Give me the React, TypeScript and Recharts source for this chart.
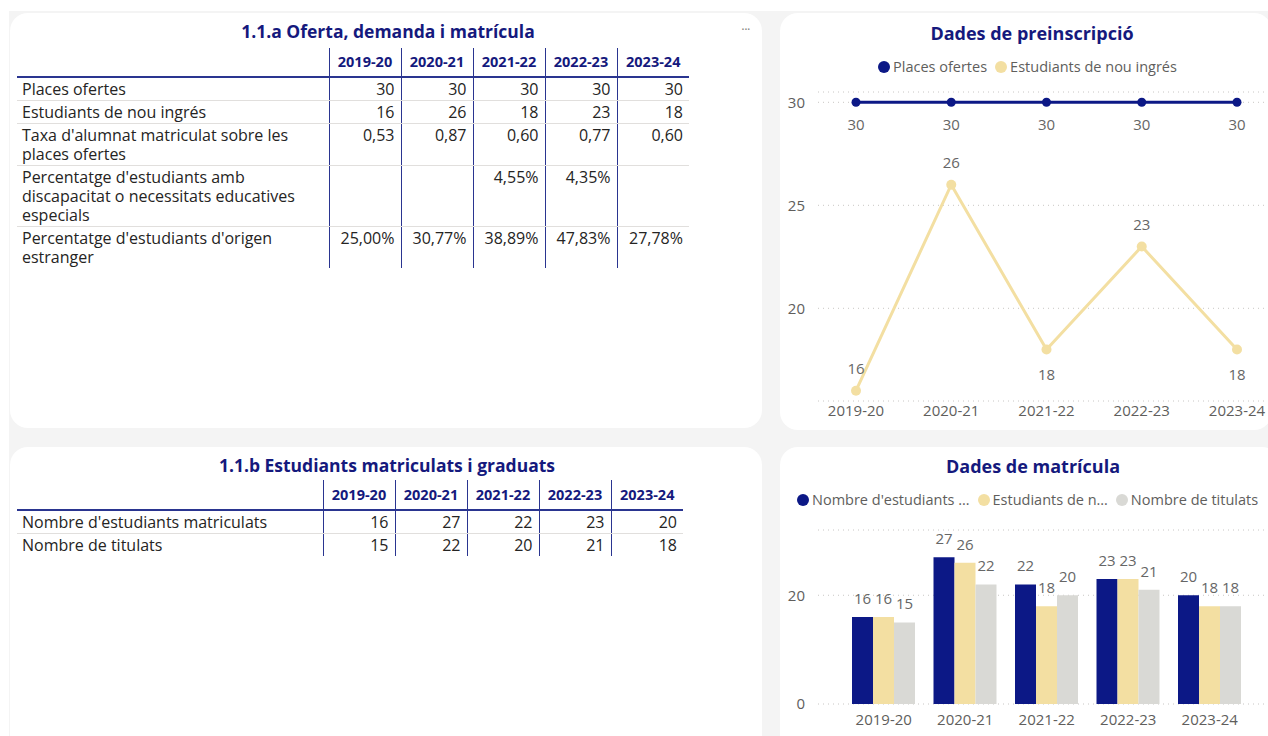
import React from 'react';
import { LineChart, Line, BarChart, Bar, XAxis, YAxis, CartesianGrid, LabelList, Legend } from 'recharts';

// ---------- data ----------
const years = ['2019-20', '2020-21', '2021-22', '2022-23', '2023-24'];
const placesOfertes = [30, 30, 30, 30, 30];
const nouIngres = [16, 26, 18, 23, 18];
const taxaMatricula = [0.53, 0.87, 0.6, 0.77, 0.6];
const pctDiscapacitat: (number | null)[] = [null, null, 4.55, 4.35, null];
const pctEstranger = [25.0, 30.77, 38.89, 47.83, 27.78];
const matriculats = [16, 27, 22, 23, 20];
const titulats = [15, 22, 20, 21, 18];

const table1Labels = [
  'Places ofertes',
  'Estudiants de nou ingrés',
  "Taxa d'alumnat matriculat sobre les places ofertes",
  "Percentatge d'estudiants amb discapacitat o necessitats educatives especials",
  "Percentatge d'estudiants d'origen estranger",
];
const table2Labels = ["Nombre d'estudiants matriculats", 'Nombre de titulats'];

const lineLegendLabels = ['Places ofertes', 'Estudiants de nou ingrés'];
const barLegendLabels = ["Nombre d'estudiants …", 'Estudiants de n…', 'Nombre de titulats'];

const lineTicks = [20, 25, 30];
const barTicks = [0, 20];

// ---------- style ----------
const FONT = '"Segoe UI", "Open Sans", sans-serif';
const NAVY = '#0c1886';
const YELLOW = '#F3DFA2';
const GRAY = '#D9D9D5';
const TITLE = '#15197d';
const TEXT = '#252423';
const AXIS = '#605E5C';
const LABEL = '#666666';
const GRID = '#c8c6c4';
const VLINE = '#2a3590';

const fmtInt = (v: number | null) => (v == null ? '' : String(v));
const fmtDec = (v: number | null) => (v == null ? '' : v.toFixed(2).replace('.', ','));
const fmtPct = (v: number | null) => (v == null ? '' : v.toFixed(2).replace('.', ',') + '%');

const table1Rows = [
  { label: table1Labels[0], values: placesOfertes.map(fmtInt) },
  { label: table1Labels[1], values: nouIngres.map(fmtInt) },
  { label: table1Labels[2], values: taxaMatricula.map(fmtDec) },
  { label: table1Labels[3], values: pctDiscapacitat.map(fmtPct) },
  { label: table1Labels[4], values: pctEstranger.map(fmtPct) },
];
const table2Rows = [
  { label: table2Labels[0], values: matriculats.map(fmtInt) },
  { label: table2Labels[1], values: titulats.map(fmtInt) },
];

const lineData = years.map((y, i) => ({ year: y, places: placesOfertes[i], nou: nouIngres[i] }));
const barData = years.map((y, i) => ({ year: y, matriculats: matriculats[i], nou: nouIngres[i], titulats: titulats[i] }));

// label placement for the yellow line (style, not data)
const nouLabelBelow = [false, false, true, false, true];

function DataTable(props: { left: number; top: number; labelWidth: number; colWidth: number; headerHeight: number; rows: { label: string; values: string[] }[] }) {
  const { left, top, labelWidth, colWidth, rows, headerHeight } = props;
  const cellBase: React.CSSProperties = {
    padding: '2px 6px 1px 6px',
    lineHeight: '19px',
    verticalAlign: 'top',
    fontSize: 16,
    color: TEXT,
  };
  return (
    <table
      style={{
        position: 'absolute',
        left,
        top,
        borderCollapse: 'collapse',
        tableLayout: 'fixed',
        width: labelWidth + colWidth * years.length,
        fontFamily: FONT,
      }}
    >
      <colgroup>
        <col style={{ width: labelWidth }} />
        {years.map((y) => (
          <col key={y} style={{ width: colWidth }} />
        ))}
      </colgroup>
      <thead>
        <tr style={{ height: headerHeight }}>
          <th style={{ borderBottom: `2px solid ${VLINE}`, padding: 0 }} />
          {years.map((y) => (
            <th
              key={y}
              style={{
                borderLeft: `1px solid ${VLINE}`,
                borderBottom: `2px solid ${VLINE}`,
                padding: '0 4px 0 4px',
                fontSize: 14.5,
                fontWeight: 700,
                color: TITLE,
                textAlign: 'center',
                verticalAlign: 'middle',
                lineHeight: '18px',
              }}
            >
              {y}
            </th>
          ))}
        </tr>
      </thead>
      <tbody>
        {rows.map((r, ri) => (
          <tr key={ri}>
            <td
              style={{
                ...cellBase,
                paddingLeft: 5,
                textAlign: 'left',
                borderBottom: ri < rows.length - 1 ? '1px solid #e1dfdd' : 'none',
              }}
            >
              {r.label}
            </td>
            {r.values.map((v, ci) => (
              <td
                key={ci}
                style={{
                  ...cellBase,
                  textAlign: 'right',
                  borderLeft: `1px solid ${VLINE}`,
                  borderBottom: ri < rows.length - 1 ? '1px solid #e1dfdd' : 'none',
                }}
              >
                {v}
              </td>
            ))}
          </tr>
        ))}
      </tbody>
    </table>
  );
}

function LegendRow(props: { items: { label: string; color: string }[] }) {
  return (
    <div
      style={{
        display: 'flex',
        alignItems: 'center',
        fontFamily: FONT,
        fontSize: 14.5,
        color: AXIS,
        whiteSpace: 'nowrap',
        lineHeight: '20px',
      }}
    >
      {props.items.map((it, i) => (
        <span key={i} style={{ display: 'inline-flex', alignItems: 'center', marginRight: 8 }}>
          <span
            style={{
              display: 'inline-block',
              width: 12,
              height: 12,
              borderRadius: 6,
              background: it.color,
              marginRight: 3,
            }}
          />
          {it.label}
        </span>
      ))}
    </div>
  );
}

function makePointLabel(offsetFor: (i: number) => number) {
  return (props: any) => {
    const vb = props.viewBox || {};
    const x = typeof props.x === 'number' ? props.x : vb.x;
    const y = typeof props.y === 'number' ? props.y : vb.y;
    const idx = typeof props.index === 'number' ? props.index : 0;
    if (typeof x !== 'number' || typeof y !== 'number') return null;
    return (
      <text
        x={x}
        y={y + offsetFor(idx)}
        textAnchor="middle"
        dominantBaseline="central"
        fill={LABEL}
        fontSize={15}
        fontFamily={FONT}
      >
        {props.value}
      </text>
    );
  };
}

const Panel = (p: { left: number; top: number; width: number; height: number }) => (
  <div
    style={{
      position: 'absolute',
      left: p.left,
      top: p.top,
      width: p.width,
      height: p.height,
      background: '#ffffff',
      borderRadius: 18,
    }}
  />
);

const Title = (p: { cx: number; cy: number; text: string; size?: number }) => (
  <div
    style={{
      position: 'absolute',
      left: p.cx - 250,
      top: p.cy - 13,
      width: 500,
      height: 26,
      lineHeight: '26px',
      textAlign: 'center',
      fontFamily: FONT,
      fontWeight: 700,
      fontSize: p.size || 16,
      color: TITLE,
      whiteSpace: 'nowrap',
    }}
  >
    {p.text}
  </div>
);

export default function App() {
  const tickStyle = { fill: AXIS, fontSize: 15, fontFamily: FONT };
  return (
    <div
      style={{
        position: 'fixed',
        left: 0,
        top: 0,
        width: 1268,
        height: 736,
        overflow: 'hidden',
        background: '#ffffff',
      }}
    >
      <div style={{ position: 'absolute', left: 9, top: 11, right: 0, bottom: 0, background: '#f4f4f4' }} />
      <Panel left={10} top={13} width={752} height={415} />
      <Panel left={780} top={13} width={492} height={417} />
      <Panel left={10} top={447} width={752} height={320} />
      <Panel left={780} top={447} width={500} height={320} />

      {/* Table 1 */}
      <Title cx={388} cy={31} text="1.1.a Oferta, demanda i matrícula" size={17.5} />
      <div
        style={{
          position: 'absolute',
          left: 741,
          top: 18,
          fontFamily: 'Arial, sans-serif',
          fontSize: 14,
          lineHeight: '14px',
          color: '#8a8886',
          letterSpacing: -1,
        }}
      >
        ...
      </div>
      <DataTable left={17} top={48} labelWidth={312} colWidth={72} headerHeight={29} rows={table1Rows} />

      {/* Table 2 */}
      <Title cx={387} cy={465} text="1.1.b Estudiants matriculats i graduats" size={17.5} />
      <DataTable left={17} top={480} labelWidth={306} colWidth={72} headerHeight={30} rows={table2Rows} />

      {/* Line chart */}
      <Title cx={1032} cy={33} text="Dades de preinscripció" size={18} />
      <div style={{ position: 'absolute', left: 780, top: 50 }}>
        <LineChart width={520} height={381} data={lineData} margin={{ top: 42, right: 0, bottom: 0, left: 0 }}>
          <CartesianGrid vertical={false} stroke={GRID} strokeDasharray="1 4" />
          <XAxis
            dataKey="year"
            axisLine={false}
            tickLine={false}
            tickSize={0}
            tickMargin={4}
            height={30}
            interval={0}
            padding={{ left: 38, right: 63 }}
            tick={tickStyle}
          />
          <YAxis
            domain={[15.5, 30.5]}
            ticks={lineTicks}
            width={38}
            axisLine={false}
            tickLine={false}
            tickSize={0}
            tickMargin={13}
            tick={tickStyle}
          />
          <Legend
            verticalAlign="middle"
            align="center"
            layout="horizontal"
            wrapperStyle={{ top: 7, left: 98, width: 'auto', height: 20 }}
            content={() => (
              <LegendRow
                items={[
                  { label: lineLegendLabels[0], color: NAVY },
                  { label: lineLegendLabels[1], color: YELLOW },
                ]}
              />
            )}
          />
          <Line
            dataKey="places"
            name={lineLegendLabels[0]}
            stroke={NAVY}
            strokeWidth={3}
            dot={{ r: 4.5, fill: NAVY, stroke: NAVY, strokeWidth: 0 }}
            activeDot={false}
            isAnimationActive={false}
          >
            <LabelList dataKey="places" content={makePointLabel(() => 22)} />
          </Line>
          <Line
            dataKey="nou"
            name={lineLegendLabels[1]}
            stroke={YELLOW}
            strokeWidth={3}
            dot={{ r: 5, fill: YELLOW, stroke: YELLOW, strokeWidth: 0 }}
            activeDot={false}
            isAnimationActive={false}
          >
            <LabelList dataKey="nou" content={makePointLabel((i) => (nouLabelBelow[i] ? 24 : -23))} />
          </Line>
        </LineChart>
      </div>

      {/* Bar chart */}
      <Title cx={1033} cy={466} text="Dades de matrícula" size={18} />
      <div style={{ position: 'absolute', left: 780, top: 480 }}>
        <BarChart
          width={520}
          height={256}
          data={barData}
          margin={{ top: 50, right: 0, bottom: 0, left: 0 }}
          barCategoryGap={9}
          barGap={0}
        >
          <CartesianGrid vertical={false} stroke={GRID} strokeDasharray="1 4" />
          <XAxis
            dataKey="year"
            axisLine={false}
            tickLine={false}
            tickSize={0}
            tickMargin={10}
            height={32}
            interval={0}
            padding={{ left: 25, right: 49.5 }}
            tick={tickStyle}
          />
          <YAxis
            domain={[0, 32]}
            ticks={barTicks}
            width={38}
            axisLine={false}
            tickLine={false}
            tickSize={0}
            tickMargin={13}
            tick={tickStyle}
          />
          <Legend
            verticalAlign="middle"
            align="center"
            layout="horizontal"
            wrapperStyle={{ top: 10, left: 17, width: 'auto', height: 20 }}
            content={() => (
              <LegendRow
                items={[
                  { label: barLegendLabels[0], color: NAVY },
                  { label: barLegendLabels[1], color: YELLOW },
                  { label: barLegendLabels[2], color: GRAY },
                ]}
              />
            )}
          />
          <Bar dataKey="matriculats" fill={NAVY} isAnimationActive={false}>
            <LabelList dataKey="matriculats" position="top" offset={13} fill={LABEL} fontSize={15} fontFamily={FONT} />
          </Bar>
          <Bar dataKey="nou" fill={YELLOW} isAnimationActive={false}>
            <LabelList dataKey="nou" position="top" offset={13} fill={LABEL} fontSize={15} fontFamily={FONT} />
          </Bar>
          <Bar dataKey="titulats" fill={GRAY} isAnimationActive={false}>
            <LabelList dataKey="titulats" position="top" offset={13} fill={LABEL} fontSize={15} fontFamily={FONT} />
          </Bar>
        </BarChart>
      </div>
    </div>
  );
}
